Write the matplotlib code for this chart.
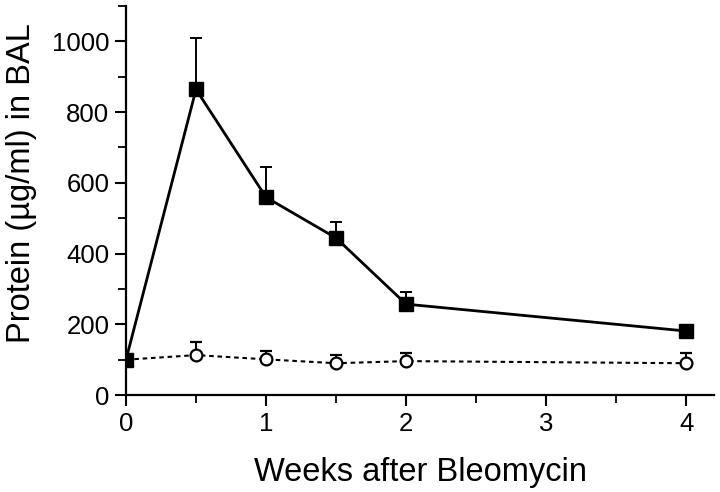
import numpy as np
import matplotlib
matplotlib.use("Agg")
import matplotlib.pyplot as plt
from matplotlib.ticker import MultipleLocator

plt.rcParams['font.family'] = ['Liberation Sans', 'DejaVu Sans']

weeks = [0, 0.5, 1, 1.5, 2, 4]

# bleomycin group (filled squares)
bleo_mean = [100, 864, 559, 444, 257, 181]
bleo_err = [0, 144, 85, 45, 34, 0]

# control group (open circles)
ctrl_mean = [100, 113, 101, 90, 96, 90]
ctrl_err = [0, 37, 23, 23, 22, 28]

fig = plt.figure(figsize=(7.2, 4.92), dpi=100)
ax = fig.add_axes([0.175, 0.197, 0.817, 0.791])

zeros = np.zeros(len(weeks))
ax.errorbar(weeks, ctrl_mean, yerr=[zeros, ctrl_err], fmt='o', color='black',
            mfc='white', mec='black', ms=8.5, mew=1.6, linestyle=(0, (2.2, 1.8)),
            lw=1.5, capsize=4, elinewidth=1.4, capthick=1.4, zorder=2)
ax.errorbar(weeks, bleo_mean, yerr=[zeros, bleo_err], fmt='s', color='black',
            ms=9.5, linestyle='-', lw=2.0, capsize=4.5, elinewidth=1.4,
            capthick=1.4, zorder=3)

ax.set_xlim(0, 4.2)
ax.set_ylim(0, 1100)
ax.set_xticks([0, 1, 2, 3, 4])
ax.xaxis.set_minor_locator(MultipleLocator(0.5))
ax.set_yticks([0, 200, 400, 600, 800, 1000])
ax.yaxis.set_minor_locator(MultipleLocator(100))

for s in ['top', 'right']:
    ax.spines[s].set_visible(False)
for s in ['left', 'bottom']:
    ax.spines[s].set_linewidth(1.6)
    ax.spines[s].set_clip_on(False)

ax.tick_params(which='major', direction='out', length=8, width=1.5, labelsize=18.5, pad=4)
ax.tick_params(which='minor', direction='out', length=6, width=1.3)

ax.set_xlabel('Weeks after Bleomycin', fontsize=23.5, labelpad=15)
ax.set_ylabel('Protein (µg/ml) in BAL', fontsize=23.5)
ax.yaxis.set_label_coords(-0.151, 0.545)

fig.savefig('out.png', dpi=100)
